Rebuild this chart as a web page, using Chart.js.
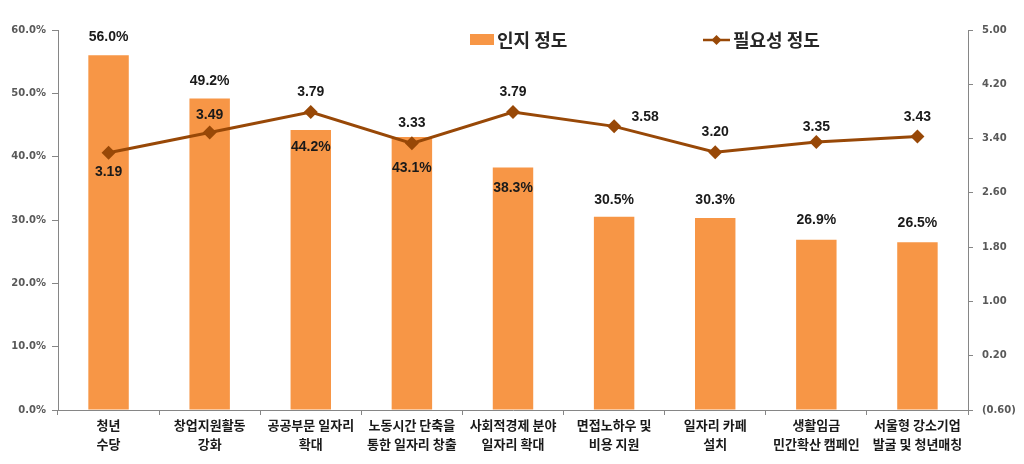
<!DOCTYPE html>
<html>
<head>
<meta charset="utf-8">
<script src="https://cdn.jsdelivr.net/npm/chart.js@4"></script>
<style>
  body { margin: 0; background: #fff; }
</style>
</head>
<body>
<canvas id="chart" width="1024" height="464"></canvas>
<script>
// categories and values
const categories = [
  ["청년", "수당"],
  ["창업지원활동", "강화"],
  ["공공부문 일자리", "확대"],
  ["노동시간 단축을", "통한 일자리 창출"],
  ["사회적경제 분야", "일자리 확대"],
  ["면접노하우 및", "비용 지원"],
  ["일자리 카페", "설치"],
  ["생활임금", "민간확산 캠페인"],
  ["서울형 강소기업", "발굴 및 청년매칭"]
];
const awareness = [56.0, 49.2, 44.2, 43.1, 38.3, 30.5, 30.3, 26.9, 26.5];
const necessity = [3.19, 3.49, 3.79, 3.33, 3.79, 3.58, 3.20, 3.35, 3.43];
const seriesNames = ["인지 정도", "필요성 정도"];

// label offsets relative to each mark (style only)
const barLabelOffset = [[0, -18], [0, -17], [0, 17], [0, 31], [0, 21], [0, -17], [0, -18], [0, -19], [0, -19]];
const lineLabelOffset = [[0, 19], [0, -17], [0, -20], [0, -20], [0, -20], [31, -9], [0, -20], [0, -15], [0, -19]];

const BAR_COLOR = "#F79646";
const LINE_COLOR = "#984807";
const AXIS_COLOR = "#868686";
const TICK_FONT = { family: "'DejaVu Sans', sans-serif", size: 10, weight: "bold" };

const fmtRight = v => v < 0 ? "(" + Math.abs(v).toFixed(2) + ")" : v.toFixed(2);

const dataLabels = {
  id: "dataLabels",
  afterDatasetsDraw(chart) {
    const ctx = chart.ctx;
    ctx.save();
    ctx.font = "bold 14px 'Liberation Sans', Arial, sans-serif";
    ctx.fillStyle = "#1a1a1a";
    ctx.textAlign = "center";
    ctx.textBaseline = "middle";
    chart.getDatasetMeta(0).data.forEach((el, i) => {
      const [dx, dy] = barLabelOffset[i];
      ctx.fillText(awareness[i].toFixed(1) + "%", el.x + dx, el.y + dy);
    });
    chart.getDatasetMeta(1).data.forEach((el, i) => {
      const [dx, dy] = lineLabelOffset[i];
      ctx.fillText(necessity[i].toFixed(2), el.x + dx, el.y + dy);
    });
    ctx.restore();
  }
};

// legend drawn inside the plot, near the top
const topLegend = {
  id: "topLegend",
  afterDraw(chart) {
    const ctx = chart.ctx;
    const y = 40;
    ctx.save();
    ctx.font = "bold 18px 'Noto Sans CJK KR', sans-serif";
    ctx.textBaseline = "middle";
    ctx.textAlign = "left";

    ctx.fillStyle = BAR_COLOR;
    ctx.fillRect(470, y - 6, 24, 11);
    ctx.fillStyle = "#262626";
    ctx.fillText(seriesNames[0], 497, y);

    ctx.strokeStyle = LINE_COLOR;
    ctx.lineWidth = 2.5;
    ctx.beginPath();
    ctx.moveTo(703, y);
    ctx.lineTo(730, y);
    ctx.stroke();
    ctx.fillStyle = LINE_COLOR;
    ctx.beginPath();
    ctx.moveTo(716.5, y - 5);
    ctx.lineTo(721.5, y);
    ctx.lineTo(716.5, y + 5);
    ctx.lineTo(711.5, y);
    ctx.closePath();
    ctx.fill();
    ctx.fillStyle = "#262626";
    ctx.fillText(seriesNames[1], 733, y);
    ctx.restore();
  }
};

new Chart(document.getElementById("chart"), {
  data: {
    labels: categories,
    datasets: [
      {
        type: "bar",
        label: seriesNames[0],
        data: awareness,
        backgroundColor: BAR_COLOR,
        barPercentage: 0.4,
        categoryPercentage: 1.0,
        yAxisID: "y",
        order: 2
      },
      {
        type: "line",
        label: seriesNames[1],
        data: necessity,
        borderColor: LINE_COLOR,
        backgroundColor: LINE_COLOR,
        borderWidth: 3,
        pointStyle: "rectRot",
        pointRadius: 7,
        pointBorderWidth: 0,
        tension: 0,
        yAxisID: "y1",
        order: 1
      }
    ]
  },
  options: {
    responsive: false,
    animation: false,
    layout: { padding: { top: 30, left: 0, right: 0, bottom: 0 } },
    plugins: {
      legend: { display: false },
      tooltip: { enabled: false }
    },
    scales: {
      x: {
        offset: true,
        grid: { display: true, drawOnChartArea: false, tickLength: 5, color: AXIS_COLOR, offset: true },
        border: { color: AXIS_COLOR, width: 1 },
        ticks: {
          autoSkip: false,
          maxRotation: 0,
          padding: 0,
          color: "#1a1a1a",
          font: { family: "'Noto Sans CJK KR', sans-serif", size: 13, weight: "bold", lineHeight: 1.5 }
        },
        afterFit: s => { s.height = 54; }
      },
      y: {
        position: "left",
        min: 0,
        max: 60,
        ticks: { stepSize: 10, padding: 6, color: "#595959", font: TICK_FONT, callback: v => v.toFixed(1) + "%" },
        grid: { drawOnChartArea: false, tickLength: 6, color: AXIS_COLOR },
        border: { color: AXIS_COLOR, width: 1 },
        afterFit: s => { s.width = 58; }
      },
      y1: {
        position: "right",
        min: -0.6,
        max: 5.0,
        ticks: { stepSize: 0.8, padding: 9, color: "#595959", font: TICK_FONT, callback: v => fmtRight(v) },
        grid: { drawOnChartArea: false, tickLength: 5, color: AXIS_COLOR },
        border: { color: AXIS_COLOR, width: 1 },
        afterFit: s => { s.width = 56; }
      }
    }
  },
  plugins: [dataLabels, topLegend]
});
</script>
</body>
</html>
